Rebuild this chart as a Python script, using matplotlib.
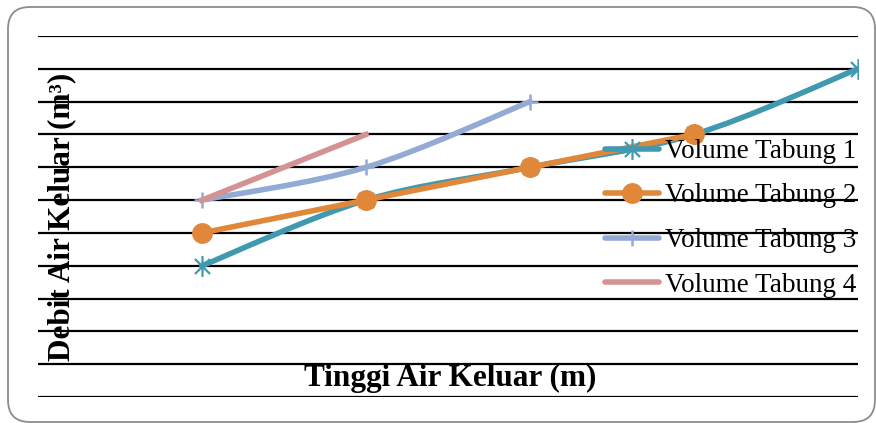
import numpy as np
import matplotlib
matplotlib.use('Agg')
import matplotlib.pyplot as plt
from matplotlib.path import Path
from matplotlib.patches import PathPatch, FancyBboxPatch
from matplotlib.lines import Line2D

# data (in gridline units)
x_pos = [1, 2, 3, 4, 5]
tabung_1 = [4, 6, 7, 8, 10]
tabung_2 = [5, 6, 7, 8]
tabung_3 = [6, 7, 9]
tabung_4 = [6, 8]
labels = ['Volume Tabung 1', 'Volume Tabung 2', 'Volume Tabung 3', 'Volume Tabung 4']
colors = ['#4199b0', '#e0873a', '#93aad5', '#d59292']

plt.rcParams['font.family'] = ['Liberation Serif', 'DejaVu Serif']

# excel-like asterisk: vertical bar plus an X
d = 0.72
star = Path([(0, -1), (0, 1), (-d, -d), (d, d), (-d, d), (d, -d)],
            [Path.MOVETO, Path.LINETO] * 3)
markers = [star, 'o', '+', 'None']
marker_sizes = [15, 15, 12, 0]
edge_widths = [1.6, 0, 1.8, 0]
line_w = 4.0


def smooth_path(xs, ys):
    # excel style smoothed line: cubic bezier through every point
    pts = np.column_stack((xs, ys)).astype(float)
    n = len(pts)
    verts = [pts[0]]
    codes = [Path.MOVETO]
    for i in range(n - 1):
        p0 = pts[i - 1] if i > 0 else pts[i]
        p1 = pts[i]
        p2 = pts[i + 1]
        p3 = pts[i + 2] if i + 2 < n else pts[i + 1]
        c1 = p1 + (p2 - p0) / 6.0
        c2 = p2 - (p3 - p1) / 6.0
        verts += [c1, c2, p2]
        codes += [Path.CURVE4, Path.CURVE4, Path.CURVE4]
    return Path(verts, codes)


fig = plt.figure(figsize=(8.76, 4.23), dpi=100)

# rounded chart border, drawn in pixel units on a background axes
bg = fig.add_axes([0, 0, 1, 1])
bg.set_xlim(0, 876)
bg.set_ylim(423, 0)
bg.axis('off')
bg.add_patch(FancyBboxPatch((8, 7), 867, 415, boxstyle='round,pad=0,rounding_size=22',
                            facecolor='none', edgecolor='#8c8c8c', lw=1.3))

ax = fig.add_axes([38 / 876, 1 - 397 / 423, 820 / 876, 361 / 423])
ax.patch.set_alpha(0)
ax.set_xlim(0, 5)
ax.set_ylim(0, 11)

# horizontal gridlines
for g in range(12):
    ax.axhline(g, color='black', lw=1.6, zorder=1)

series = [tabung_1, tabung_2, tabung_3, tabung_4]
handles = []
for i, ys in enumerate(series):
    xs = x_pos[:len(ys)]
    patch = PathPatch(smooth_path(xs, ys), facecolor='none', edgecolor=colors[i],
                      lw=line_w, capstyle='projecting', zorder=3 + i)
    ax.add_patch(patch)
    if i != 3:
        ax.plot(xs, ys, linestyle='None', marker=markers[i], markersize=marker_sizes[i],
                color=colors[i], markeredgecolor=colors[i],
                markeredgewidth=edge_widths[i], zorder=3 + i)
    handles.append(Line2D([], [], color=colors[i], lw=line_w, marker=markers[i],
                          markersize=marker_sizes[i], markeredgewidth=edge_widths[i],
                          solid_capstyle='round'))

for s in ax.spines.values():
    s.set_visible(False)
ax.set_xticks([])
ax.set_yticks([])

leg = fig.legend(handles, labels, loc='upper left', bbox_to_anchor=(605 / 876, 1 - 139 / 423),
                 frameon=False, fontsize=19.5, handlelength=2.0, handletextpad=0.22,
                 labelspacing=0.72, borderaxespad=0, borderpad=0)

# axis titles sit inside the plot area
fig.text(450 / 876, 1 - 378 / 423, 'Tinggi Air Keluar (m)', fontsize=22.5, fontweight='bold',
         ha='center', va='center')
fig.text(62 / 876, 1 - 217 / 423, 'Debit Air Keluar (m³)', fontsize=22.5,
         fontweight='bold', rotation=90, ha='center', va='center')

plt.savefig('out.png', dpi=100)
